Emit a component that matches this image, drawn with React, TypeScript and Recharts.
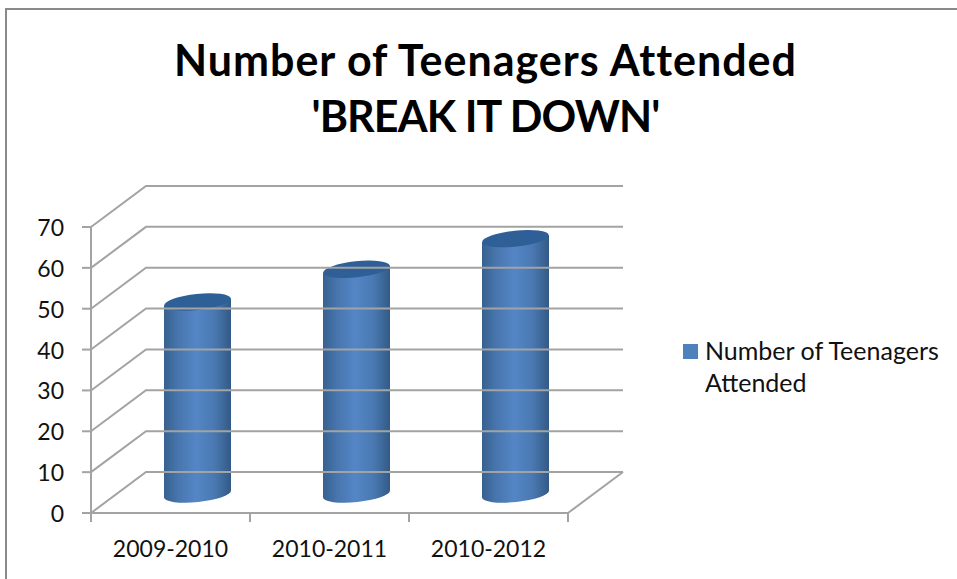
import { BarChart, Bar, XAxis, YAxis, Legend } from "recharts";

const categories = ["2009-2010", "2010-2011", "2010-2012"];
const attended = [47, 55, 62.5];
const yTicks = [0, 10, 20, 30, 40, 50, 60, 70];
const titleLines = ["Number of Teenagers Attended", "'BREAK IT DOWN'"];
const titleSpacing = [1, -0.9];
const seriesName = "Number of Teenagers Attended";
const legendLines = ["Number of Teenagers", "Attended"];

const rows = categories.map((c, i) => ({ period: c, count: attended[i] }));

const FONT = "Lato, sans-serif";
const GRID = "#a3a3a3";
// the fake 3d depth of the floor, in px
const DEPTH_X = 55;
const DEPTH_Y = 41;
const BAND = 159;

function YTick({ x, y, payload }: any) {
  return (
    <g>
      <text x={x - 27} y={y + 9} textAnchor="end" fontSize={23} fontFamily={FONT} fill="#111">
        {payload.value}
      </text>
      <line x1={x - 9} y1={y} x2={x} y2={y} stroke={GRID} strokeWidth={2} />
      <polyline
        points={`${x},${y} ${x + DEPTH_X},${y - DEPTH_Y} ${x + DEPTH_X + 477},${y - DEPTH_Y}`}
        fill="none"
        stroke={GRID}
        strokeWidth={2}
      />
    </g>
  );
}

function XTick({ x, y, payload, index }: any) {
  const left = x - BAND / 2;
  const right = x + BAND / 2;
  const last = index === categories.length - 1;
  return (
    <g>
      <line x1={left} y1={y - 8} x2={left} y2={y + 1} stroke={GRID} strokeWidth={2} />
      {last && (
        <>
          <line x1={right} y1={y - 8} x2={right} y2={y + 1} stroke={GRID} strokeWidth={2} />
          <line x1={right} y1={y - 8} x2={right + DEPTH_X} y2={y - 8 - DEPTH_Y} stroke={GRID} strokeWidth={2} />
        </>
      )}
      <text x={x} y={y + 36} textAnchor="middle" fontSize={23} fontFamily={FONT} fill="#111">
        {payload.value}
      </text>
    </g>
  );
}

function Cylinder({ x, y, width, height }: any) {
  const cx = x + width / 2 + 27;
  const rx = width / 2;
  const ry = 8;
  const tilt = 3.5;
  const top = y - 19;
  const bottom = y + height - 19;
  const l = cx - rx;
  const r = cx + rx;
  return (
    <g>
      <path
        d={`M${l},${top + tilt} L${l},${bottom + tilt} A${rx},${ry} -6 0 0 ${r},${bottom - tilt} L${r},${top - tilt} Z`}
        fill="url(#cylBody)"
      />
      <ellipse cx={cx} cy={top} rx={rx} ry={ry} transform={`rotate(-6 ${cx} ${top})`} fill="#2f5f97" />
    </g>
  );
}

function LegendBox() {
  return (
    <div style={{ position: "relative", width: 260, height: 70, fontFamily: FONT, fontSize: 25, color: "#111" }}>
      <div style={{ position: "absolute", left: 0, top: 7, width: 15, height: 15, background: "#4f81bd" }} />
      {legendLines.map((t, i) => (
        <div key={t} style={{ position: "absolute", left: 22, top: i * 32 - 3, lineHeight: "32px", whiteSpace: "nowrap" }}>
          {t}
        </div>
      ))}
    </div>
  );
}

export default function App() {
  return (
    <div style={{ position: "absolute", left: 0, top: 0, width: 957, height: 579, background: "#fff", overflow: "hidden" }}>
      <div style={{ position: "absolute", left: 5, top: 8, width: 960, height: 600, borderLeft: "2px solid #8a8a8a", borderTop: "2px solid #8a8a8a" }} />
      {titleLines.map((t, i) => (
        <div
          key={t}
          style={{
            position: "absolute",
            left: 0,
            width: 971,
            top: 32 + i * 56,
            textAlign: "center",
            fontFamily: FONT,
            fontWeight: 700,
            fontSize: 43,
            letterSpacing: titleSpacing[i],
            lineHeight: "56px",
            color: "#000",
            whiteSpace: "nowrap",
          }}
        >
          {t}
        </div>
      ))}
      <div style={{ position: "absolute", left: 0, top: 0 }}>
        <BarChart
          width={957}
          height={579}
          data={rows}
          margin={{ left: 82, right: 129, top: 227, bottom: 36 }}
          barCategoryGap={0}
        >
          <defs>
            <linearGradient id="cylBody" x1="0" y1="0" x2="1" y2="0">
              <stop offset="0%" stopColor="#37618f" />
              <stop offset="22%" stopColor="#4876ae" />
              <stop offset="48%" stopColor="#5486c6" />
              <stop offset="75%" stopColor="#4a79b2" />
              <stop offset="100%" stopColor="#335a86" />
            </linearGradient>
          </defs>
          <YAxis
            type="number"
            domain={[0, 70]}
            ticks={yTicks}
            width={9}
            interval={0}
            tick={<YTick />}
            tickLine={false}
            tickSize={0}
            tickMargin={0}
            axisLine={{ stroke: GRID, strokeWidth: 2 }}
          />
          <XAxis
            dataKey="period"
            interval={0}
            tick={<XTick />}
            tickLine={false}
            tickSize={0}
            tickMargin={8}
            axisLine={{ stroke: GRID, strokeWidth: 2 }}
          />
          <Bar dataKey="count" name={seriesName} barSize={67} isAnimationActive={false} shape={<Cylinder />} />
          <Legend
            content={<LegendBox />}
            layout="vertical"
            align="right"
            verticalAlign="middle"
            wrapperStyle={{ position: "absolute", left: 683, top: 337, width: 260 }}
          />
        </BarChart>
      </div>
    </div>
  );
}
